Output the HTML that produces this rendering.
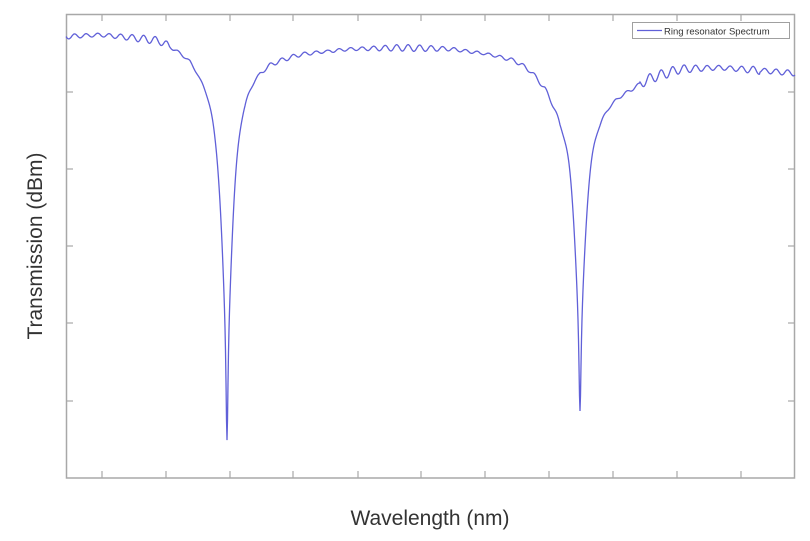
<!DOCTYPE html>
<html><head><meta charset="utf-8"><style>
html,body{margin:0;padding:0;background:#fff;}
svg{display:block;font-family:"Liberation Sans",Arial,sans-serif;}
</style></head><body>
<svg id="s" width="810" height="541" viewBox="0 0 810 541" xmlns="http://www.w3.org/2000/svg">
<rect x="0" y="0" width="810" height="541" fill="#fff"/>
<g stroke="#a8a8a8" stroke-width="1.5" fill="none">
<rect x="66.5" y="14.5" width="728" height="463.5"/>
</g>
<g id="ticks" stroke="#a8a8a8" stroke-width="1.2"></g>
<path id="curve" fill="none" stroke="#6060d8" stroke-width="1.3" d=""/>
<g>
<rect x="632.5" y="22.5" width="157" height="16" fill="#fff" stroke="#a0a0a0" stroke-width="1"/>
<line x1="637" y1="30.5" x2="662" y2="30.5" stroke="#6060d8" stroke-width="1.3"/>
<text x="664" y="34.5" font-size="9.5" fill="#333">Ring resonator Spectrum</text>
</g>
<text x="430" y="525" font-size="21" fill="#333" text-anchor="middle">Wavelength (nm)</text>
<text transform="translate(42,246) rotate(-90)" font-size="21" fill="#333" text-anchor="middle">Transmission (dBm)</text>
</svg>
<script>
var t=document.getElementById('ticks'),h='';
[102,166,230,293,358,421,485,549,613,677,741].forEach(function(x){
h+='<line x1="'+x+'" y1="478" x2="'+x+'" y2="471"/><line x1="'+x+'" y1="14" x2="'+x+'" y2="21"/>';});
[92,169,246,323,401].forEach(function(y){
h+='<line x1="66" y1="'+y+'" x2="73" y2="'+y+'"/><line x1="795" y1="'+y+'" x2="788" y2="'+y+'"/>';});
t.innerHTML=h;
var A=[[66,36],[100,34],[160,38],[175,45],[190,52],[200,62],[215,70],[245,70],[255,64],[270,58],[300,52],[350,48],[400,47],[450,48],[490,53],[515,58],[530,66],[545,80],[560,100],[600,100],[615,92],[630,86],[650,76],[680,68],[720,67],[760,70],[795,73]];
function base(x){for(var i=0;i<A.length-1;i++){if(x<=A[i+1][0]){var f=(x-A[i][0])/(A[i+1][0]-A[i][0]);return A[i][1]+f*(A[i+1][1]-A[i][1]);}}return 73;}
function amp(x){if(x<170)return 3.5;if(x<260)return 1.5;if(x<330)return 2;if(x<480)return 3;if(x<540)return 2;if(x<640)return 2;if(x<760)return 4.5;return 2.5;}
function L(x,x0,g){return g*g/((x-x0)*(x-x0)+g*g);}
var d='';
for(var x=66;x<=795;x+=0.5){
var y=base(x)+amp(x)*Math.sin((x-66)*2*Math.PI/11.5)*(0.8+0.3*Math.sin(x*0.05));
y+=240*L(x,227,7.5)+130*L(x,227,1.2);
y+=200*L(x,580,7.5)+112*L(x,580,1.3);
d+=(d?'L':'M')+x.toFixed(1)+' '+y.toFixed(1);}
document.getElementById('curve').setAttribute('d',d);
</script>
</body></html>
